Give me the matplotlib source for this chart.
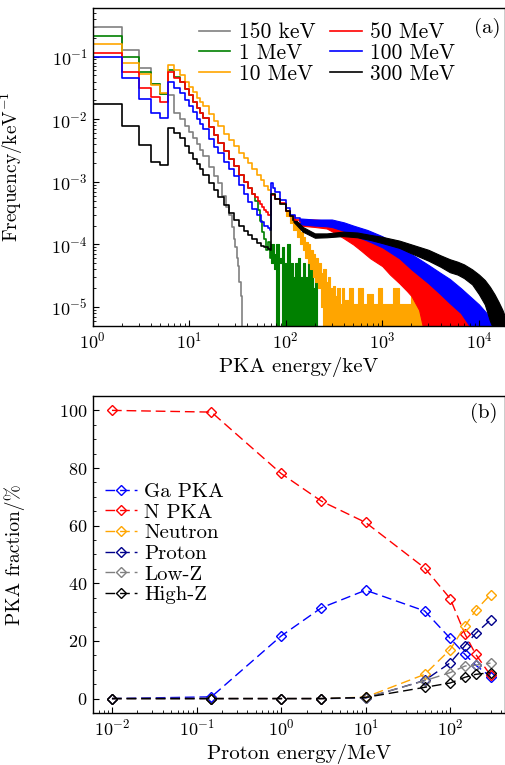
import numpy as np
from matplotlib import pyplot as plt

plt.rcParams['font.family'] = 'serif'
plt.rcParams['font.serif'] = ['cmr10']
plt.rcParams['mathtext.fontset'] = 'cm'
plt.rcParams['axes.unicode_minus'] = False
plt.rcParams['axes.formatter.use_mathtext'] = True

# ---------------- (a) PKA spectra, values per keV ----------------
gray_e = [1, 2, 3, 4, 5, 6, 7, 8, 9, 10, 11, 12, 13, 14, 16, 18, 20, 22, 24, 26, 28, 29, 30, 31, 32, 33, 34, 35]
gray_f = [0.30, 0.127, 0.065, 0.037, 0.025, 0.024, 0.0125, 0.010, 0.0078, 0.0062, 0.0050, 0.0040, 0.0032, 0.0026,
          0.0017, 0.00125, 9.5e-4, 6e-4, 4e-4, 2.9e-4, 1.9e-4, 1.2e-4, 9e-5, 6e-5, 4.5e-5, 2.5e-5, 1.5e-5, 0]

green_e = [1, 2, 3, 4, 5, 6, 7, 8, 9, 10, 11, 12, 13, 14, 16, 18, 20, 23, 26, 29, 33, 37, 41, 45, 48, 51, 54, 57,
           60, 63, 66, 68, 70]
green_f = [0.21, 0.099, 0.057, 0.036, 0.025, 0.062, 0.047, 0.039, 0.030, 0.024, 0.019, 0.015, 0.0125, 0.0105,
           0.0075, 0.0056, 0.0042, 0.0031, 0.0023, 0.0018, 0.0013, 0.001, 8e-4, 6.3e-4, 5e-4, 3.6e-4, 2.4e-4,
           1.6e-4, 1.2e-4, 8e-5, 1.1e-4, 6e-5, 9e-5]

orange_e = [1, 2, 3, 4, 5, 6, 7, 8, 9, 10, 11, 12, 13, 14, 16, 18, 20, 23, 26, 29, 33, 37, 41, 45, 50, 55, 60,
            65, 70, 78, 87, 100]
orange_f = [0.16, 0.078, 0.053, 0.035, 0.026, 0.073, 0.060, 0.050, 0.040, 0.033, 0.027, 0.022, 0.019, 0.0165,
            0.0122, 0.0095, 0.0077, 0.0058, 0.0046, 0.0037, 0.0029, 0.0024, 0.0020, 0.0016, 0.0013, 0.00105,
            8.5e-4, 7.5e-4, 6.5e-4, 5.3e-4, 4.4e-4, 3.4e-4]

red_e = [1, 2, 3, 4, 5, 6, 7, 8, 9, 10, 11, 12, 13, 14, 16, 18, 20, 23, 26, 29, 33, 37, 41, 45, 48, 51, 54, 57,
         60, 63, 66, 68, 70, 78, 87, 100, 110, 125, 140]
red_f = [0.115, 0.057, 0.032, 0.023, 0.0186, 0.056, 0.046, 0.039, 0.030, 0.024, 0.019, 0.015, 0.0125, 0.0105,
         0.0075, 0.0056, 0.0042, 0.0031, 0.0023, 0.0018, 0.0013, 0.001, 8e-4, 6.5e-4, 5.8e-4, 5e-4, 4.4e-4,
         4e-4, 3.6e-4, 3.3e-4, 3.0e-4, 2.9e-4, 6.2e-4, 5.4e-4, 4.6e-4, 3.4e-4, 2.8e-4, 2.5e-4, 2.3e-4]

blue_e = [1, 2, 3, 4, 5, 6, 7, 8, 9, 10, 11, 12, 13, 14, 16, 18, 20, 23, 26, 29, 33, 37, 41, 45, 50, 55, 60, 65,
          68, 70, 74, 78, 87, 100, 110, 125, 140]
blue_f = [0.097, 0.045, 0.0208, 0.0125, 0.0104, 0.040, 0.031, 0.026, 0.020, 0.016, 0.0128, 0.0102, 0.0084,
          0.0069, 0.0048, 0.0036, 0.0029, 0.0021, 0.0016, 0.00125, 9e-4, 6.5e-4, 4.8e-4, 3.7e-4, 2.9e-4,
          2.3e-4, 2.0e-4, 1.8e-4, 1.7e-4, 9.5e-4, 8e-4, 7e-4, 5.2e-4, 3.8e-4, 3e-4, 2.6e-4, 2.4e-4]

black_e = [1, 2, 3, 4, 5, 6, 7, 8, 9, 10, 11, 12, 13, 14, 16, 18, 20, 23, 26, 29, 33, 37, 41, 45, 50, 55, 60, 65,
           69, 70, 78, 87, 100, 110, 120]
black_f = [0.0173, 0.0079, 0.00386, 0.0021, 0.00187, 0.0073, 0.0060, 0.0050, 0.0037, 0.0029, 0.0023, 0.0019,
           0.0016, 0.0013, 9.5e-4, 7.5e-4, 5.8e-4, 4.2e-4, 3.2e-4, 2.5e-4, 2e-4, 1.65e-4, 1.4e-4, 1.22e-4,
           1.05e-4, 9.5e-5, 9e-5, 8.5e-5, 8e-5, 6.3e-4, 5.3e-4, 4.5e-4, 3.4e-4, 2.8e-4, 2.5e-4]

# noisy high-energy tails: lower / upper envelopes (counts of a few events per bin)
green_te = [70, 75, 80, 86, 92, 97, 103, 110, 118, 125, 133, 142, 150, 160, 170, 180, 190, 200, 212]
green_lo = [5e-5, 4e-5, 4e-6, 5e-5, 4e-6, 4e-6, 4e-6, 4e-6, 4e-6, 4e-6, 4e-6, 4e-6, 4e-6, 4e-6, 4e-6, 4e-6,
            4e-6, 4e-6, 4e-6]
green_hi = [1.0e-4, 7e-5, 1.0e-4, 6e-5, 9e-5, 5e-5, 1e-4, 5e-5, 3e-5, 5e-5, 6e-5, 3e-5, 5e-5, 3e-5, 5e-5,
            5e-5, 2e-5, 5e-5, 5e-5]

orange_te = [100, 110, 120, 130, 140, 150, 160, 170, 180, 190, 200, 215, 230, 245, 260, 275, 290, 305, 320, 340,
             360, 380, 400, 450, 500, 560, 630, 700, 800, 900, 1000, 1150, 1300, 1500, 1700, 2000, 2300, 2600,
             3000]
orange_lo = [2.8e-4, 2.2e-4, 1.7e-4, 1.3e-4, 1.0e-4, 8e-5, 6e-5, 5e-5, 4e-5, 3e-5, 2.5e-5, 2e-5, 1e-5, 4e-6,
             4e-6, 4e-6, 4e-6, 4e-6, 4e-6, 4e-6, 4e-6, 4e-6, 4e-6, 4e-6, 4e-6, 4e-6, 4e-6, 4e-6, 4e-6, 4e-6,
             4e-6, 4e-6, 4e-6, 4e-6, 4e-6, 4e-6, 4e-6, 4e-6, 4e-6]
orange_hi = [3.6e-4, 2.9e-4, 2.3e-4, 2.0e-4, 1.6e-4, 1.3e-4, 1.1e-4, 1.0e-4, 8e-5, 7e-5, 6e-5, 5e-5, 3.5e-5,
             4e-5, 2.5e-5, 3e-5, 2e-5, 2.2e-5, 1.5e-5, 2e-5, 1.1e-5, 2e-5, 1.3e-5, 2e-5, 1.1e-5, 2e-5, 1.1e-5,
             1.6e-5, 1.1e-5, 2e-5, 1.1e-5, 1.1e-5, 2e-5, 1.1e-5, 1.1e-5, 1.6e-5, 1.1e-5, 1.1e-5, 1.1e-5]

red_te = [140, 200, 265, 330, 400, 500, 600, 750, 900, 1000, 1200, 1500, 1800, 2000, 2400, 2700, 3000, 3500,
          4000, 4500, 5000, 6000, 7000, 8000, 9000]
red_lo = [2e-4, 1.9e-4, 1.8e-4, 1.5e-4, 1.25e-4, 1e-4, 8e-5, 6e-5, 5e-5, 4.5e-5, 3.3e-5, 2.4e-5, 1.8e-5,
          1.5e-5, 9e-6, 4e-6, 4e-6, 4e-6, 4e-6, 4e-6, 4e-6, 4e-6, 4e-6, 4e-6, 4e-6]
red_hi = [2.5e-4, 2.5e-4, 2.4e-4, 2.1e-4, 1.8e-4, 1.55e-4, 1.35e-4, 1.15e-4, 1.0e-4, 9e-5, 7.5e-5, 6e-5, 5e-5,
          4.5e-5, 3.8e-5, 3e-5, 2.7e-5, 2.2e-5, 1.9e-5, 1.7e-5, 1.5e-5, 1.2e-5, 9.5e-6, 7e-6, 5.5e-6]

blue_te = [140, 200, 265, 300, 400, 500, 700, 1000, 1500, 2000, 3000, 4000, 5000, 6500, 8000, 10000, 12000,
           13500, 16000]
blue_lo = [2.1e-4, 2e-4, 1.95e-4, 1.9e-4, 1.65e-4, 1.4e-4, 1.15e-4, 9e-5, 6e-5, 4e-5, 2.4e-5, 1.6e-5, 1.15e-5,
           8e-6, 5e-6, 4e-6, 4e-6, 4e-6, 4e-6]
blue_hi = [2.6e-4, 2.5e-4, 2.5e-4, 2.5e-4, 2.25e-4, 2e-4, 1.7e-4, 1.35e-4, 9.5e-5, 7e-5, 4.7e-5, 3.5e-5, 2.8e-5,
           2e-5, 1.5e-5, 1.1e-5, 8e-6, 6.5e-6, 5e-6]

black_te = [120, 150, 200, 265, 390, 550, 750, 1000, 1500, 2000, 3000, 4000, 5000, 6000, 7000, 8500, 10000,
            11500, 13000, 14500, 16000, 17500, 18600]
black_lo = [2.3e-4, 1.6e-4, 1.28e-4, 1.3e-4, 1.36e-4, 1.3e-4, 1.18e-4, 1.05e-4, 8.8e-5, 7.2e-5, 5.5e-5, 4.4e-5,
            3.6e-5, 3.3e-5, 2.9e-5, 2.3e-5, 1.6e-5, 1.1e-5, 6e-6, 4e-6, 4e-6, 4e-6, 4e-6]
black_hi = [2.7e-4, 1.9e-4, 1.5e-4, 1.5e-4, 1.6e-4, 1.55e-4, 1.42e-4, 1.32e-4, 1.15e-4, 1.0e-4, 8.2e-5, 6.7e-5,
            5.8e-5, 5.3e-5, 4.8e-5, 4e-5, 3.3e-5, 2.7e-5, 2.1e-5, 1.6e-5, 1.2e-5, 9e-6, 7e-6]

# ---------------- (b) PKA fractions ----------------
proton_energy = [0.01, 0.15, 1, 3, 10, 50, 100, 150, 200, 300]
ga_pka = [0, 0.6, 21.7, 31.5, 37.6, 30.4, 20.9, 15.3, 11.6, 7.6]
n_pka = [100, 99.4, 78.1, 68.5, 61.1, 45.3, 34.7, 22.3, 15.4, 8.1]
neutron = [0, 0, 0, 0, 0.5, 8.4, 17.0, 25.2, 30.6, 36.1]
proton = [0, 0, 0, 0, 0.2, 6.3, 12.4, 18.4, 22.6, 27.3]
low_z = [0, 0, 0, 0, 0.3, 6.2, 9.0, 11.3, 11.6, 12.3]
high_z = [0, 0, 0, 0, 0.4, 3.9, 5.4, 7.4, 8.4, 9.0]

fig = plt.figure(figsize=(5.06, 7.65), dpi=100)
ax1 = fig.add_axes([0.183, 0.574, 0.815, 0.4157])
ax2 = fig.add_axes([0.183, 0.068, 0.815, 0.4144])

spectra = [
    ("150 keV", "gray", gray_e, gray_f, None, False),
    ("1 MeV", "green", green_e, green_f, (green_te, green_lo, green_hi), True),
    ("10 MeV", "orange", orange_e, orange_f, (orange_te, orange_lo, orange_hi), True),
    ("50 MeV", "red", red_e, red_f, (red_te, red_lo, red_hi), False),
    ("100 MeV", "blue", blue_e, blue_f, (blue_te, blue_lo, blue_hi), False),
    ("300 MeV", "black", black_e, black_f, (black_te, black_lo, black_hi), False),
]
for lab, c, e, f, band, stepped in spectra:
    ax1.step(e, f, where='post', color=c, lw=1.2, label=lab)
    if band is not None:
        ax1.fill_between(band[0], band[1], band[2], color=c, lw=0.8, edgecolor=c,
                         step='post' if stepped else None)

ax1.set_xscale('log')
ax1.set_yscale('log')
ax1.set_xlim(1, 1.86e4)
ax1.set_ylim(5e-6, 0.6)
ax1.set_xlabel("PKA energy/keV", fontsize=15)
ax1.set_ylabel("Frequency/keV$^{-1}$", fontsize=14)
ax1.legend(ncol=2, frameon=False, loc='upper right', bbox_to_anchor=(0.90, 0.98), borderaxespad=0,
           fontsize=15.5, handlelength=1.45, columnspacing=0.7, labelspacing=0.05, handletextpad=0.4)
ax1.text(0.988, 0.937, "(a)", transform=ax1.transAxes, ha='right', va='center', fontsize=15)

series = [
    ("Ga PKA", "blue", ga_pka),
    ("N PKA", "red", n_pka),
    ("Neutron", "orange", neutron),
    ("Proton", "darkblue", proton),
    ("Low-Z", "gray", low_z),
    ("High-Z", "black", high_z),
]
for lab, c, v in series:
    ax2.plot(proton_energy, v, color=c, ls=(0, (7, 3.5)), lw=1.0, marker='D', ms=5,
             mfc='none', mec=c, mew=1.0, label=lab)

ax2.set_xscale('log')
ax2.set_xlim(5.9e-3, 445)
ax2.set_ylim(-5, 105)
ax2.set_yticks([0, 20, 40, 60, 80, 100])
ax2.set_yticks(np.arange(0, 105, 5), minor=True)
ax2.set_xlabel("Proton energy/MeV", fontsize=15)
ax2.set_ylabel("PKA fraction/%", fontsize=14)
ax2.legend(frameon=False, loc='center left', bbox_to_anchor=(0.0, 0.535), borderaxespad=0.2,
           fontsize=15, handlelength=1.54, labelspacing=0.1, handletextpad=0.34, numpoints=1)
ax2.text(0.983, 0.946, "(b)", transform=ax2.transAxes, ha='right', va='center', fontsize=15)

for ax in (ax1, ax2):
    ax.tick_params(which='both', direction='in', top=False, right=False, labelsize=13)
    ax.tick_params(which='major', length=4, width=0.8)
    ax.tick_params(which='minor', length=2.2, width=0.6)
    for s in ax.spines.values():
        s.set_linewidth(1.0)
    ax.yaxis.set_label_coords(-0.164, 0.5)

fig.savefig("out.png", dpi=100)
